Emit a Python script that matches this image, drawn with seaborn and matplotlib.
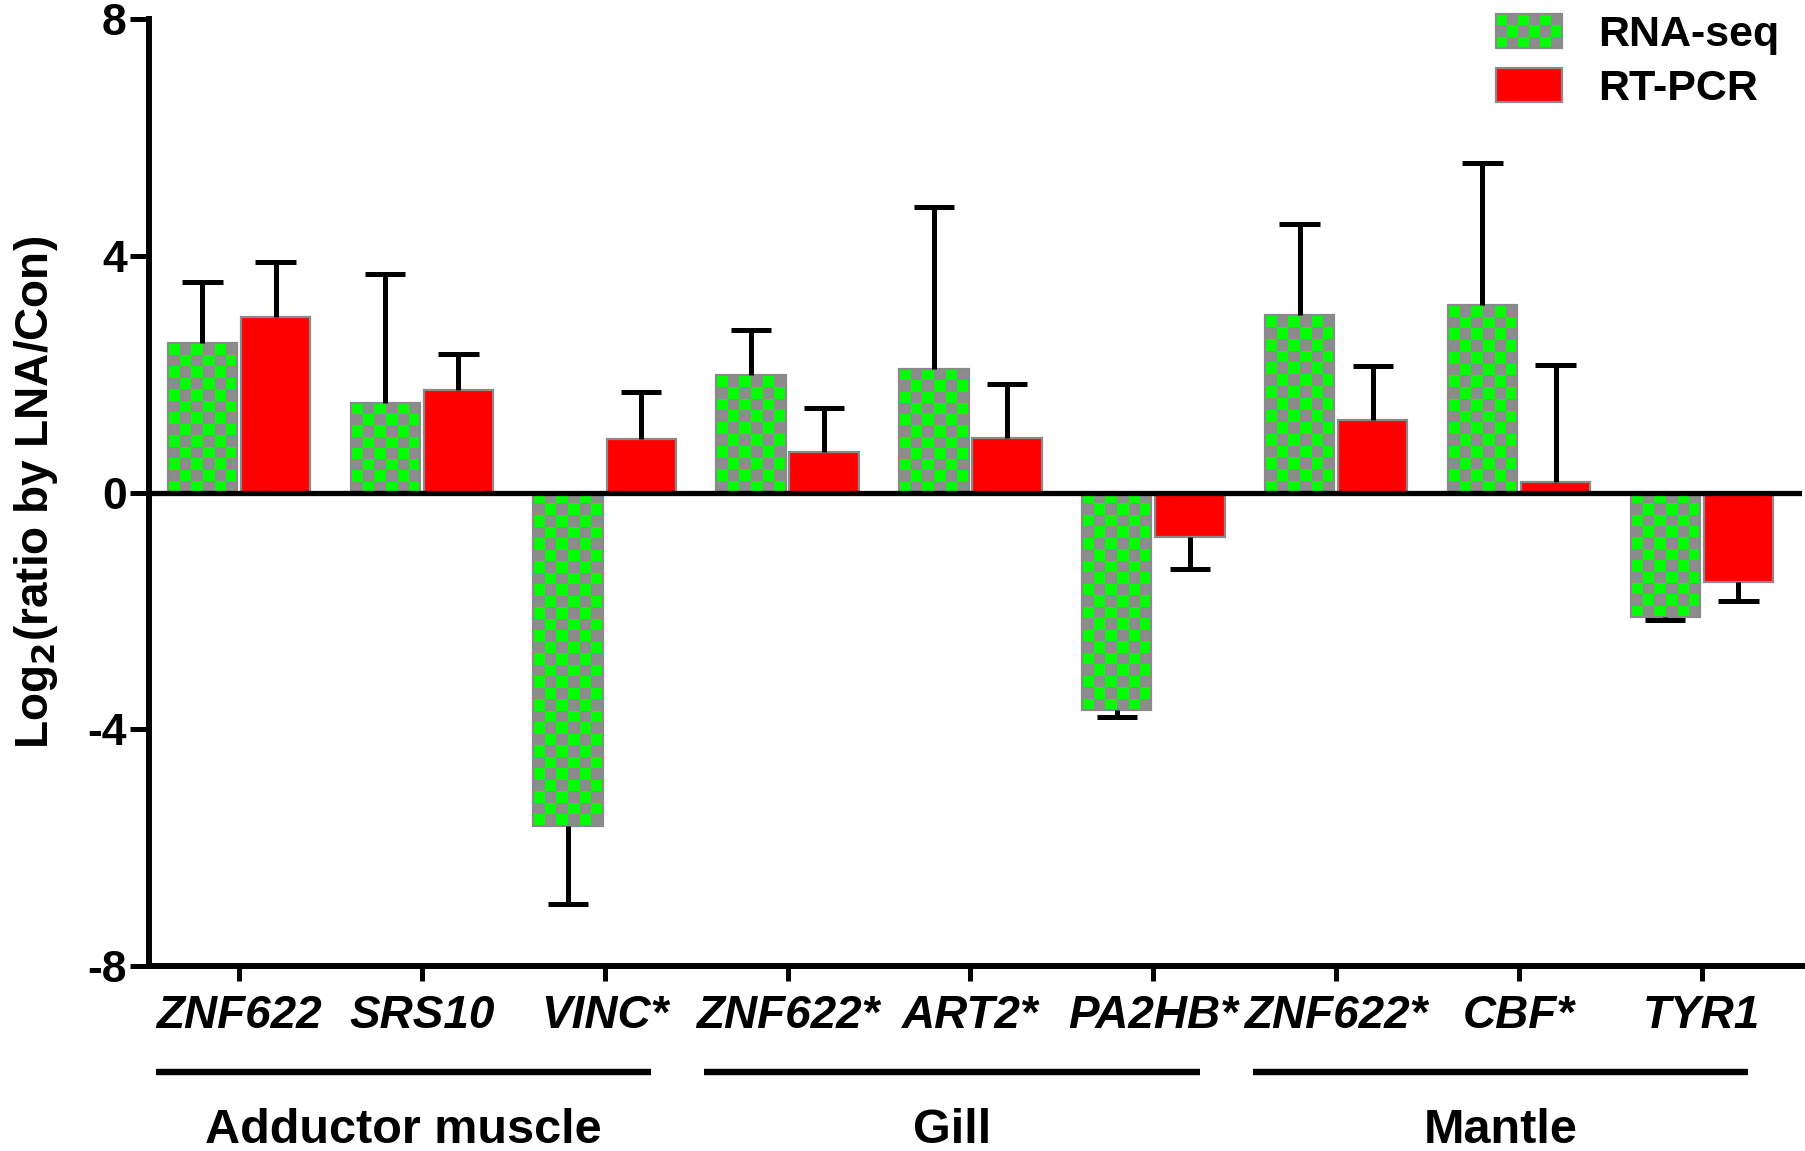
import numpy as np
import pandas as pd
import seaborn as sns
import matplotlib
matplotlib.use("Agg")
import matplotlib.pyplot as plt
from matplotlib.colors import ListedColormap
from matplotlib.patches import Rectangle, Patch
from matplotlib.legend_handler import HandlerBase
from matplotlib.transforms import blended_transform_factory

# data
genes = ['ZNF622', 'SRS10', 'VINC*', 'ZNF622*', 'ART2*', 'PA2HB*', 'ZNF622*', 'CBF*', 'TYR1']
tissues = ['Adductor muscle', 'Adductor muscle', 'Adductor muscle',
           'Gill', 'Gill', 'Gill', 'Mantle', 'Mantle', 'Mantle']
rna_seq = [2.52, 1.52, -5.63, 1.99, 2.09, -3.67, 3.00, 3.16, -2.11]
rna_err = [1.03, 2.17, 1.33, 0.76, 2.73, 0.12, 1.53, 2.40, 0.04]
rt_pcr = [2.97, 1.74, 0.90, 0.68, 0.92, -0.76, 1.23, 0.18, -1.52]
rt_err = [0.93, 0.60, 0.80, 0.74, 0.91, 0.53, 0.90, 1.97, 0.31]
methods = ['RNA-seq', 'RT-PCR']
y_ticks = [-8, -4, 0, 4, 8]

GREEN = '#00ff00'
GRAY = '#8c8c8c'
RED = '#ff0000'
EDGE = '#8a8a8a'

keys = [f'{t}|{g}|{i}' for i, (t, g) in enumerate(zip(tissues, genes))]
df = pd.DataFrame({
    'key': keys * 2,
    'method': [methods[0]] * len(keys) + [methods[1]] * len(keys),
    'value': rna_seq + rt_pcr,
})

sns.set_style('ticks')
plt.rcParams['font.family'] = ['Liberation Sans', 'DejaVu Sans']
plt.rcParams['font.weight'] = 'bold'
plt.rcParams['text.color'] = 'black'
plt.rcParams['axes.labelcolor'] = 'black'
plt.rcParams['xtick.color'] = 'black'
plt.rcParams['ytick.color'] = 'black'
plt.rcParams['axes.unicode_minus'] = False

fig = plt.figure(figsize=(18.06, 11.51), dpi=100)
ax = fig.add_axes([0.0825, 0.1607, 0.9155, 0.8228])

sns.barplot(data=df, x='key', y='value', hue='method', order=keys, hue_order=methods,
            palette={methods[0]: GRAY, methods[1]: RED}, saturation=1,
            width=0.8, gap=0.05, edgecolor=EDGE, linewidth=1.6,
            errorbar=None, legend=False, ax=ax)

# checkerboard fill for the RNA-seq bars
px_x = 182.9   # pixels per category unit
px_y = 59.0    # pixels per y unit
cell = 11.5
checker_cmap = ListedColormap([GRAY, GREEN])
for bar in ax.containers[0]:
    x0, w = bar.get_x(), bar.get_width()
    h = bar.get_height()
    y0, y1 = min(0, h), max(0, h)
    ncol = max(1, int(round(w * px_x / cell)))
    nrow = max(1, int(round((y1 - y0) * px_y / cell)))
    grid = (np.add.outer(np.arange(nrow), np.arange(ncol)) % 2 == 0).astype(int)
    if h < 0:
        grid = grid[::-1]
    im = ax.imshow(grid, cmap=checker_cmap, vmin=0, vmax=1, extent=[x0, x0 + w, y0, y1],
                   origin='upper', aspect='auto', interpolation='nearest', zorder=2)
    im.set_clip_path(bar)
    bar.set_facecolor('none')
    bar.set_zorder(3)

# one-sided error bars
cap = 0.11
for cont, errs in zip(ax.containers, [rna_err, rt_err]):
    for bar, e in zip(cont, errs):
        x = bar.get_x() + bar.get_width() / 2
        v = bar.get_height()
        tip = v + np.sign(v) * e
        ax.vlines(x, v, tip, colors='black', lw=3.6, zorder=4)
        ax.hlines(tip, x - cap, x + cap, colors='black', lw=3.6, zorder=4)

ax.axhline(0, color='black', lw=3.8, zorder=5)

ax.set_xlim(-0.492, 8.55)
ax.set_ylim(-8, 8)
ax.set_yticks(y_ticks)
ax.set_yticklabels([str(t) for t in y_ticks], fontsize=32, fontweight='bold')
ax.set_xticks(range(len(genes)))
ax.set_xticklabels(genes, fontsize=33, fontweight='bold', fontstyle='italic')
ax.set_xlabel('')
ax.set_ylabel('Log$_\\mathbf{2}$(ratio by LNA/Con)', fontsize=33, fontweight='bold')
ax.yaxis.set_label_coords(-0.054, 0.5)

sns.despine(ax=ax)
for side in ['left', 'bottom']:
    ax.spines[side].set_linewidth(4.3)
    ax.spines[side].set_color('black')
ax.tick_params(axis='y', length=14, width=3.6, pad=2)
ax.tick_params(axis='x', length=11, width=3.6, pad=9)

# tissue brackets below the gene names
trans = blended_transform_factory(ax.transData, ax.transAxes)
for name in ['Adductor muscle', 'Gill', 'Mantle']:
    idx = [i for i, t in enumerate(tissues) if t == name]
    mid = (idx[0] + idx[-1]) / 2 - 0.1
    ax.plot([mid - 1.355, mid + 1.355], [-0.112, -0.112], color='black', lw=4.6,
            transform=trans, clip_on=False, solid_capstyle='butt')
    ax.text(mid, -0.187, name, transform=trans, ha='center', va='baseline',
            fontsize=35, fontweight='bold')


class CheckerHandler(HandlerBase):
    def create_artists(self, legend, orig_handle, xdescent, ydescent, width, height, fontsize, trans):
        arts = [Rectangle((-xdescent, -ydescent), width, height, facecolor=GRAY, lw=0, transform=trans)]
        nx, ny = 6, 3
        cw, ch = width / nx, height / ny
        for i in range(nx):
            for j in range(ny):
                if (i + j) % 2 == 0:
                    arts.append(Rectangle((-xdescent + i * cw, -ydescent + j * ch), cw, ch,
                                          facecolor=GREEN, lw=0, transform=trans))
        arts.append(Rectangle((-xdescent, -ydescent), width, height, fill=False,
                              edgecolor=EDGE, lw=1.6, transform=trans))
        return arts


h_rna = Patch(facecolor=GRAY, edgecolor=EDGE)
h_rt = Patch(facecolor=RED, edgecolor=EDGE, linewidth=1.6)
fig.legend([h_rna, h_rt], methods, loc='upper left',
           bbox_to_anchor=(1496 / 1806, 1 - 14 / 1151), frameon=False,
           prop={'size': 31, 'weight': 'bold'}, borderpad=0, borderaxespad=0,
           handlelength=1.53, handleheight=0.84, handletextpad=0.84, labelspacing=0.3,
           handler_map={h_rna: CheckerHandler()})

fig.savefig('out.png', dpi=100)
